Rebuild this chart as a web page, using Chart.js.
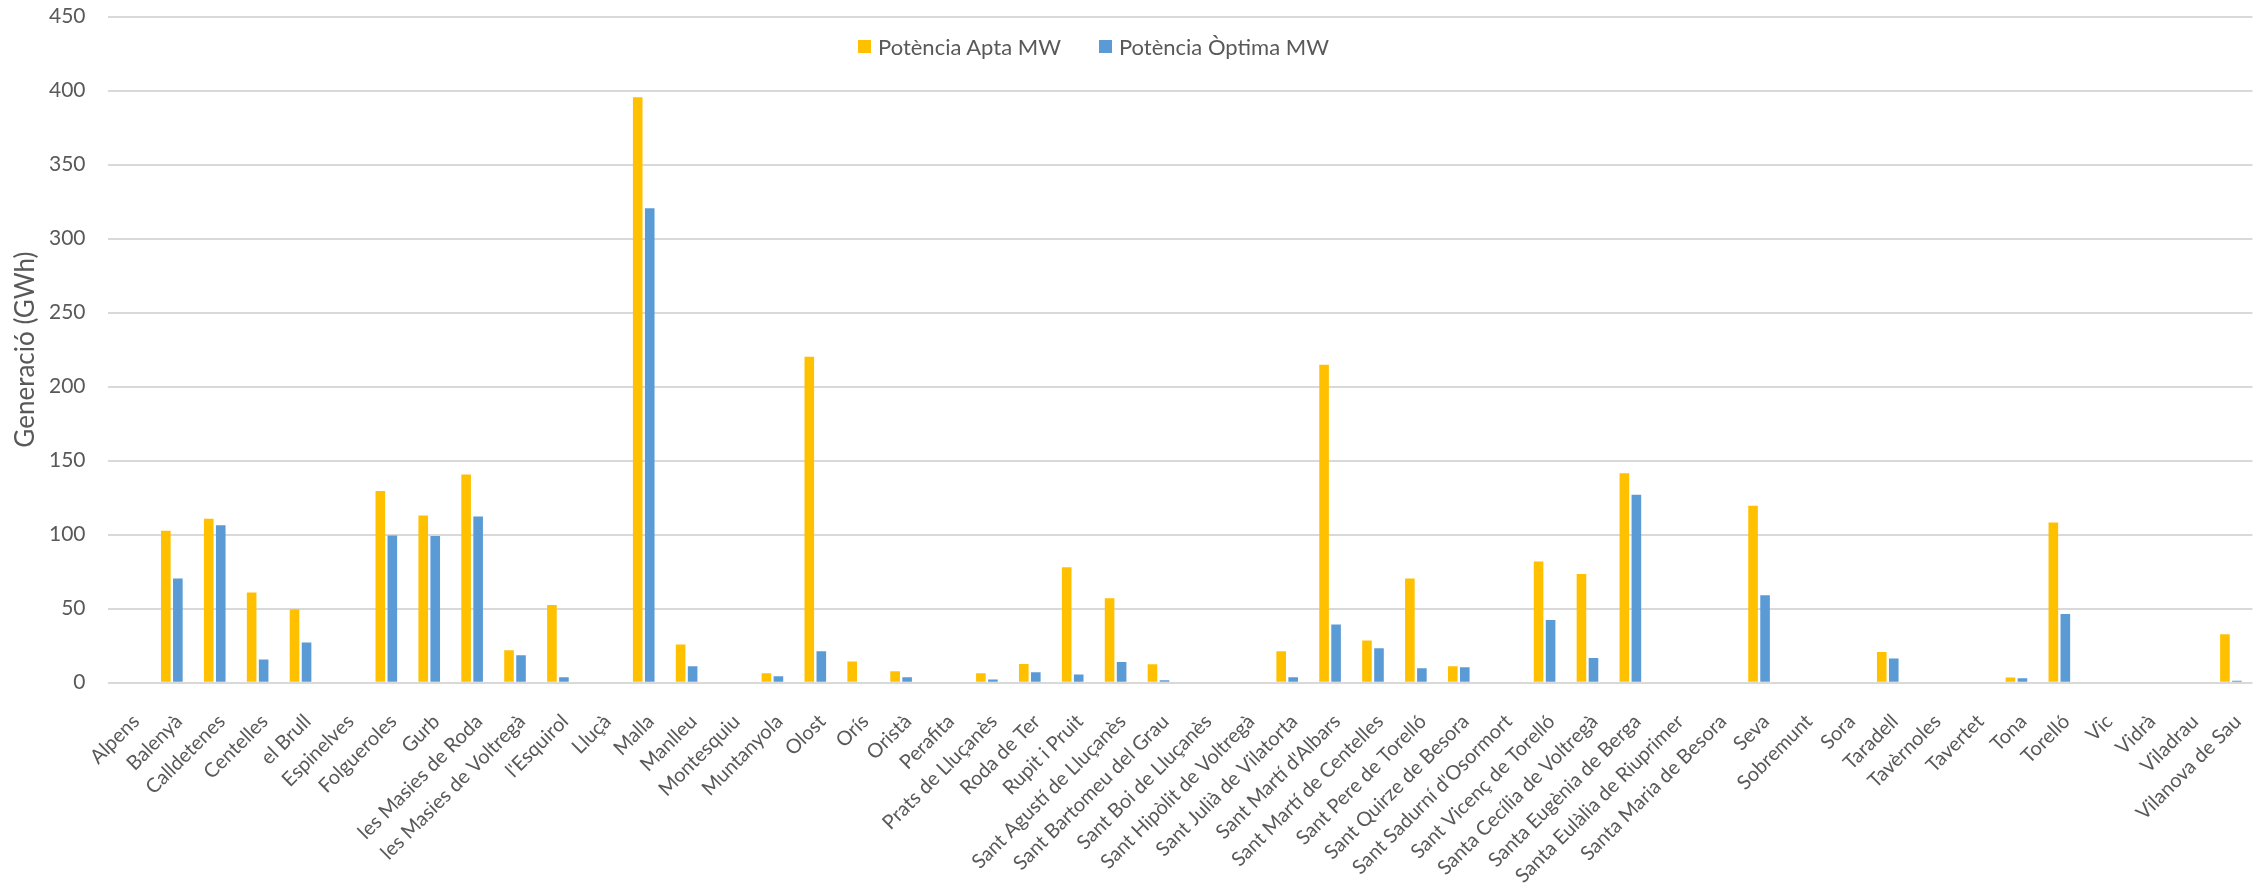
<!DOCTYPE html>
<html>
<head>
<meta charset="utf-8">
<title>Generació per municipi</title>
<script src="https://cdn.jsdelivr.net/npm/chart.js@4/dist/chart.umd.min.js"></script>
<style>
    body { margin: 0; background: #fff; }
    #wrap { position: relative; width: 2267px; height: 896px; }
    #legend { position: absolute; left: 858px; top: 33px; display: flex; font-family: Lato, sans-serif; font-size: 22px; color: #595959; }
    #legend .item { display: flex; align-items: center; margin-right: 38px; }
    #legend .box { width: 13px; height: 13px; margin-right: 7px; }
</style>
</head>
<body>
<div id="wrap">
    <canvas id="myChart" width="2267" height="896"></canvas>
    <div id="legend"></div>
</div>
<script>
const categories = ['Alpens', 'Balenyà', 'Calldetenes', 'Centelles', 'el Brull', 'Espinelves', 'Folgueroles', 'Gurb',
    'les Masies de Roda', 'les Masies de Voltregà', "l'Esquirol", 'Lluçà', 'Malla', 'Manlleu', 'Montesquiu',
    'Muntanyola', 'Olost', 'Orís', 'Oristà', 'Perafita', 'Prats de Lluçanès', 'Roda de Ter', 'Rupit i Pruit',
    'Sant Agustí de Lluçanès', 'Sant Bartomeu del Grau', 'Sant Boi de Lluçanès', 'Sant Hipòlit de Voltregà',
    'Sant Julià de Vilatorta', "Sant Martí d'Albars", 'Sant Martí de Centelles', 'Sant Pere de Torelló',
    'Sant Quirze de Besora', "Sant Sadurní d'Osormort", 'Sant Vicenç de Torelló', 'Santa Cecília de Voltregà',
    'Santa Eugènia de Berga', 'Santa Eulàlia de Riuprimer', 'Santa Maria de Besora', 'Seva', 'Sobremunt', 'Sora',
    'Taradell', 'Tavèrnoles', 'Tavertet', 'Tona', 'Torelló', 'Vic', 'Vidrà', 'Viladrau', 'Vilanova de Sau'];

const potenciaApta = [0, 102.6, 110.8, 61, 49.6, 0, 129.5, 113, 140.6, 22, 52.5, 0, 395.5, 25.8, 0,
    6.4, 220.2, 14.3, 7.8, 0, 6.4, 12.7, 78, 57, 12.5, 0, 0, 21.3, 214.8, 28.5, 70.4,
    11.1, 0, 81.8, 73.4, 141.5, 0, 0, 119.6, 0, 0, 20.8, 0, 0, 3.5, 108.2, 0, 0, 0, 32.7];

const potenciaOptima = [0, 70.4, 106.3, 15.7, 27.2, 0, 99.4, 99.1, 112.2, 18.6, 3.7, 0, 320.5, 11.1, 0,
    4.4, 21.3, 0, 3.7, 0, 2.2, 7.1, 5.5, 13.9, 1.7, 0, 0, 3.7, 39.3, 23.3, 9.8,
    10.5, 0, 42.4, 16.6, 127, 0, 0, 59, 0, 0, 16.4, 0, 0, 3.0, 46.4, 0, 0, 0, 1.4];

const textColor = '#595959';

const ctx = document.getElementById('myChart').getContext('2d');
const myChart = new Chart(ctx, {
    type: 'bar',
    data: {
        labels: categories,
        datasets: [{
            label: 'Potència Apta MW',
            data: potenciaApta,
            backgroundColor: '#FFC000',
            categoryPercentage: 0.56,
            barPercentage: 0.8
        }, {
            label: 'Potència Òptima MW',
            data: potenciaOptima,
            backgroundColor: '#5B9BD5',
            categoryPercentage: 0.56,
            barPercentage: 0.8
        }]
    },
    options: {
        responsive: false,
        animation: false,
        devicePixelRatio: 1,
        layout: {padding: {top: 16.5, right: 9.5, left: 0, bottom: 0}},
        plugins: {
            legend: {display: false},
            tooltip: {enabled: false}
        },
        scales: {
            x: {
                grid: {display: false},
                border: {display: false},
                ticks: {
                    color: textColor,
                    font: {family: 'Lato, sans-serif', size: 20},
                    autoSkip: false,
                    maxRotation: 45,
                    minRotation: 45,
                    padding: 19,
                    labelOffset: 7
                },
                afterFit: (scale) => { scale.height = 213.3; }
            },
            y: {
                min: 0,
                max: 450,
                // invisible tick marks keep the labels away from the plot without adding top padding
                grid: {color: '#D9D9D9', lineWidth: 2, drawTicks: true, tickLength: 22, tickColor: 'rgba(0,0,0,0)'},
                border: {display: false},
                ticks: {stepSize: 50, color: textColor, font: {family: 'Lato, sans-serif', size: 21}, padding: 0},
                title: {
                    display: true,
                    text: 'Generació (GWh)',
                    color: textColor,
                    font: {family: 'Lato, sans-serif', size: 26},
                    padding: {top: 10, bottom: 0}
                },
                afterFit: (scale) => { scale.width = 107.5; }
            }
        }
    }
});

// legend drawn in html over the plot, like the original
let legendBox = document.getElementById('legend');
myChart.data.datasets.forEach((ds) => {
    let item = document.createElement('div');
    item.className = 'item';
    item.innerHTML = '<span class="box" style="background:' + ds.backgroundColor + '"></span>' + ds.label;
    legendBox.appendChild(item);
});
</script>
</body>
</html>
